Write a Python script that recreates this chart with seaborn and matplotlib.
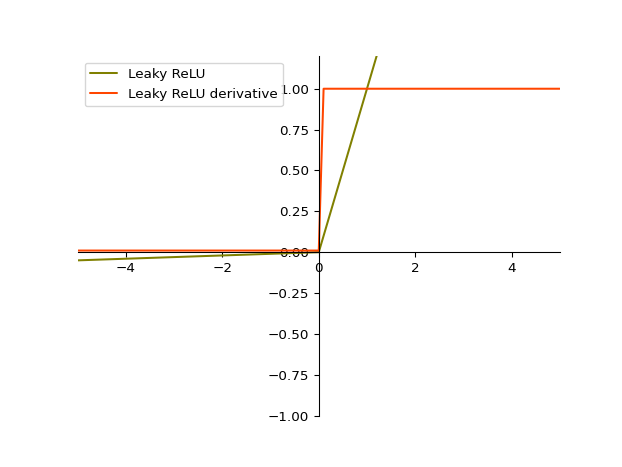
import matplotlib
matplotlib.use("Agg")
import matplotlib.pyplot as plt
import seaborn as sns

# Leaky ReLU (alpha = 0.01) key points
relu_x = [-5.0, 0.0, 5.0]
relu_y = [-0.05, 0.0, 5.0]

# Leaky ReLU derivative key points
deriv_x = [-5.0, 0.0, 0.1, 5.0]
deriv_y = [0.01, 0.01, 1.0, 1.0]

series_names = ["Leaky ReLU", "Leaky ReLU derivative"]
series_colors = ["olive", "orangered"]

sns.set_style("ticks")
plt.rcParams['font.family'] = ['DejaVu Sans']
plt.rcParams['text.color'] = 'black'
plt.rcParams['axes.labelcolor'] = 'black'
plt.rcParams['xtick.color'] = 'black'
plt.rcParams['ytick.color'] = 'black'
plt.rcParams['axes.edgecolor'] = 'black'

fig, ax = plt.subplots(figsize=(622 / 97.2, 467 / 97.2), dpi=97.2)

sns.lineplot(x=relu_x, y=relu_y, ax=ax, color=series_colors[0], label=series_names[0],
             sort=False, estimator=None)
sns.lineplot(x=deriv_x, y=deriv_y, ax=ax, color=series_colors[1], label=series_names[1],
             sort=False, estimator=None)

ax.set_xlim(-5, 5)
ax.set_ylim(-1, 1.2)
ax.set_xticks([-4, -2, 0, 2, 4])
ax.set_yticks([-1.0, -0.75, -0.5, -0.25, 0.0, 0.25, 0.5, 0.75, 1.0])
ax.set_yticklabels(["−1.00", "−0.75", "−0.50", "−0.25", "0.00", "0.25", "0.50", "0.75", "1.00"])
ax.set_xticklabels(["−4", "−2", "0", "2", "4"])

ax.spines['left'].set_position('zero')
ax.spines['bottom'].set_position('zero')
ax.spines['right'].set_visible(False)
ax.spines['top'].set_visible(False)
for s in ['left', 'bottom']:
    ax.spines[s].set_linewidth(0.8)
    ax.spines[s].set_color('black')
ax.tick_params(axis='both', labelsize=10, width=0.8, length=3.5, color='black', labelcolor='black')

leg = ax.legend(loc='upper left', frameon=True, fontsize=10)
for t in leg.get_texts():
    t.set_color('black')

fig.subplots_adjust(left=0.125, right=0.9, bottom=0.11, top=0.88)
fig.savefig("out.png", dpi=97.2)
